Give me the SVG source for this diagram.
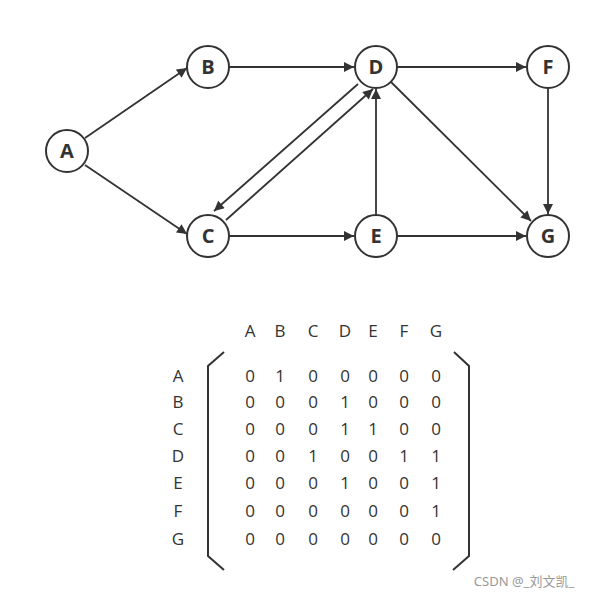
<svg xmlns="http://www.w3.org/2000/svg" width="600" height="600" viewBox="0 0 600 600">
<style>
.n circle{fill:#fff;stroke:#333;stroke-width:2}
.n text{font-family:"Open Sans",sans-serif;font-weight:bold;font-size:20px;fill:#333;text-anchor:middle}
.e line{stroke:#333;stroke-width:1.8;marker-end:url(#ah)}
.m{font-family:"Open Sans",sans-serif;font-size:17px;fill:#333;text-anchor:middle}
.br{fill:none;stroke:#333;stroke-width:2}
</style>
<defs><marker id="ah" viewBox="0 0 10 10" refX="10" refY="5" markerWidth="11" markerHeight="10" markerUnits="userSpaceOnUse" orient="auto"><path d="M0,0L10,5L0,10z" fill="#333"/></marker></defs>
<rect width="600" height="600" fill="#fff"/>
<g id="edges" class="e">
<line x1="85" y1="138" x2="187" y2="68"/>
<line x1="85" y1="165" x2="187" y2="234"/>
<line x1="229" y1="67" x2="354" y2="67"/>
<line x1="397" y1="67" x2="526" y2="67"/>
<line x1="229" y1="236" x2="354" y2="236"/>
<line x1="397" y1="236" x2="526" y2="236"/>
<line x1="548" y1="88" x2="548" y2="214"/>
<line x1="376" y1="215" x2="376" y2="89"/>
<line x1="391" y1="82" x2="531" y2="221"/>
<line x1="358" y1="84" x2="214" y2="211"/>
<line x1="226" y1="220" x2="373" y2="89"/>
</g>
<g id="A" class="n"><circle cx="67" cy="151" r="21"/><text x="67" y="158">A</text></g>
<g id="B" class="n"><circle cx="208" cy="67" r="21"/><text x="208" y="74">B</text></g>
<g id="D" class="n"><circle cx="376" cy="67" r="21"/><text x="376" y="74">D</text></g>
<g id="F" class="n"><circle cx="548" cy="67" r="21"/><text x="548" y="74">F</text></g>
<g id="C" class="n"><circle cx="208" cy="236" r="21"/><text x="208" y="243">C</text></g>
<g id="E" class="n"><circle cx="376" cy="236" r="21"/><text x="376" y="243">E</text></g>
<g id="G" class="n"><circle cx="548" cy="236" r="21"/><text x="548" y="243">G</text></g>
<g id="matrix" class="m">
<text x="250" y="337">A</text><text x="280" y="337">B</text><text x="313" y="337">C</text><text x="345" y="337">D</text><text x="373" y="337">E</text><text x="404" y="337">F</text><text x="436" y="337">G</text>
<text x="178" y="382">A</text><text x="178" y="408">B</text><text x="178" y="435">C</text><text x="178" y="462">D</text><text x="178" y="489">E</text><text x="178" y="517">F</text><text x="178" y="545">G</text>
<g>
<text x="250" y="382">0</text><text x="280" y="382">1</text><text x="313" y="382">0</text><text x="345" y="382">0</text><text x="373" y="382">0</text><text x="404" y="382">0</text><text x="436" y="382">0</text>
<text x="250" y="408">0</text><text x="280" y="408">0</text><text x="313" y="408">0</text><text x="345" y="408">1</text><text x="373" y="408">0</text><text x="404" y="408">0</text><text x="436" y="408">0</text>
<text x="250" y="435">0</text><text x="280" y="435">0</text><text x="313" y="435">0</text><text x="345" y="435">1</text><text x="373" y="435">1</text><text x="404" y="435">0</text><text x="436" y="435">0</text>
<text x="250" y="462">0</text><text x="280" y="462">0</text><text x="313" y="462">1</text><text x="345" y="462">0</text><text x="373" y="462">0</text><text x="404" y="462">1</text><text x="436" y="462">1</text>
<text x="250" y="489">0</text><text x="280" y="489">0</text><text x="313" y="489">0</text><text x="345" y="489">1</text><text x="373" y="489">0</text><text x="404" y="489">0</text><text x="436" y="489">1</text>
<text x="250" y="517">0</text><text x="280" y="517">0</text><text x="313" y="517">0</text><text x="345" y="517">0</text><text x="373" y="517">0</text><text x="404" y="517">0</text><text x="436" y="517">1</text>
<text x="250" y="545">0</text><text x="280" y="545">0</text><text x="313" y="545">0</text><text x="345" y="545">0</text><text x="373" y="545">0</text><text x="404" y="545">0</text><text x="436" y="545">0</text>
</g>
</g>
<path class="br" d="M224,352 L208,366 L208,556 L224,570"/>
<path class="br" d="M454,352 L469,366 L469,556 L453,570"/>
<text x="524" y="586" font-family="'Noto Sans','Noto Sans CJK SC',sans-serif" font-size="13" fill="#999" text-anchor="middle">CSDN @_刘文凯_</text>
</svg>
